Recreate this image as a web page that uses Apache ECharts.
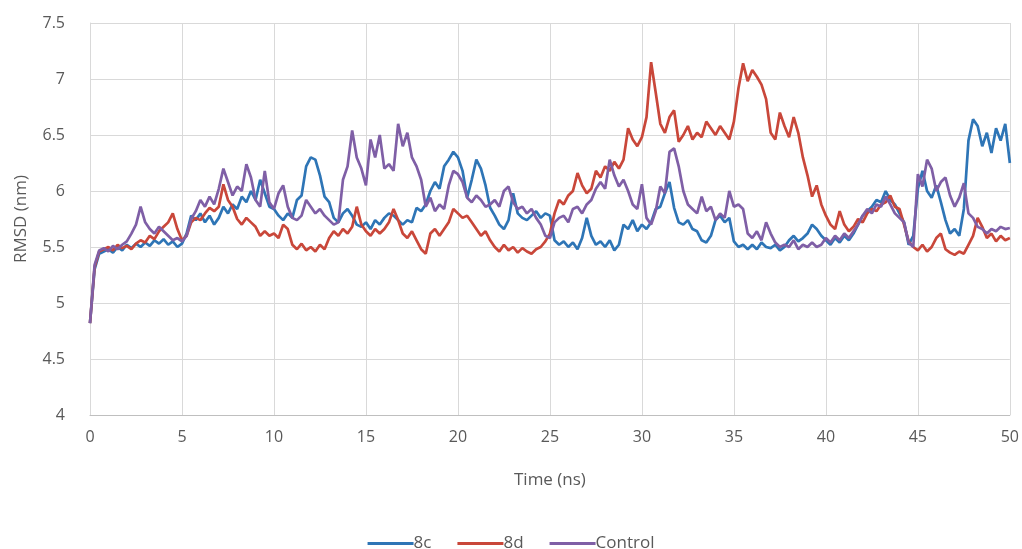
<!DOCTYPE html>
<html>
<head>
<meta charset="utf-8">
<script src="https://cdn.jsdelivr.net/npm/echarts@6/dist/echarts.min.js"></script>
<style>html,body{margin:0;padding:0;background:#fff}#c{width:1022px;height:549px}</style>
</head>
<body>
<div id="c"></div>
<script>
const timeStep = 0.25; // ns between samples, samples from 0 to 50 ns
const seriesNames = ['8c', '8d', 'Control'];
const xTicks = [0, 5, 10, 15, 20, 25, 30, 35, 40, 45, 50];
const yTicks = [4, 4.5, 5, 5.5, 6, 6.5, 7, 7.5];

const rmsd8c = [
4.82,5.30,5.44,5.46, 5.48,5.45,5.50,5.47, 5.52,5.49,5.53,5.50, 5.54,5.51,5.56,5.53, 5.57,5.52,5.55,5.50,
5.53,5.62,5.78,5.74, 5.80,5.72,5.78,5.70, 5.76,5.86,5.80,5.88, 5.84,5.95,5.90,6.00, 5.92,6.10,5.98,5.86,
5.84,5.78,5.74,5.80, 5.76,5.92,5.96,6.22, 6.30,6.28,6.14,5.95, 5.90,5.76,5.72,5.80, 5.84,5.78,5.70,5.68,
5.72,5.66,5.74,5.70, 5.76,5.80,5.78,5.74, 5.70,5.74,5.72,5.85, 5.82,5.88,6.00,6.08, 6.02,6.22,6.28,6.35,
6.30,6.18,5.94,6.10, 6.28,6.20,6.05,5.85, 5.78,5.70,5.66,5.74, 5.98,5.80,5.76,5.74, 5.78,5.82,5.76,5.80,
5.78,5.56,5.52,5.55, 5.50,5.54,5.48,5.58, 5.76,5.60,5.52,5.55, 5.50,5.56,5.47,5.52, 5.70,5.66,5.74,5.64,
5.70,5.66,5.72,5.84, 5.86,5.98,6.08,5.85, 5.72,5.70,5.74,5.66, 5.64,5.56,5.54,5.60, 5.74,5.78,5.72,5.76,
5.55,5.50,5.52,5.48, 5.52,5.48,5.54,5.50, 5.49,5.52,5.47,5.50, 5.56,5.60,5.55,5.58, 5.62,5.70,5.66,5.60,
5.56,5.52,5.58,5.54, 5.60,5.56,5.62,5.70, 5.78,5.82,5.86,5.92, 5.90,6.00,5.92,5.88, 5.80,5.72,5.52,5.60,
6.02,6.18,6.00,5.94, 6.05,5.90,5.74,5.62, 5.66,5.60,5.84,6.45, 6.64,6.58,6.40,6.52, 6.34,6.56,6.45,6.60,
6.25];

const rmsd8d = [
4.82,5.32,5.46,5.48, 5.50,5.47,5.52,5.49, 5.51,5.48,5.53,5.56, 5.54,5.60,5.57,5.64, 5.68,5.72,5.80,5.66,
5.56,5.60,5.72,5.76, 5.74,5.80,5.85,5.82, 5.86,6.06,5.92,5.86, 5.75,5.70,5.76,5.72, 5.68,5.60,5.64,5.60,
5.62,5.58,5.70,5.66, 5.52,5.48,5.53,5.47, 5.50,5.46,5.52,5.48, 5.58,5.64,5.60,5.66, 5.62,5.68,5.86,5.70,
5.64,5.60,5.66,5.62, 5.66,5.72,5.84,5.74, 5.62,5.58,5.64,5.56, 5.48,5.44,5.62,5.66, 5.60,5.66,5.72,5.84,
5.80,5.76,5.78,5.72, 5.66,5.60,5.64,5.56, 5.50,5.46,5.52,5.47, 5.50,5.45,5.49,5.46, 5.44,5.48,5.50,5.55,
5.62,5.80,5.92,5.88, 5.96,6.00,6.16,6.05, 5.98,6.02,6.18,6.12, 6.22,6.18,6.26,6.20, 6.28,6.56,6.46,6.40,
6.48,6.66,7.15,6.88, 6.60,6.52,6.66,6.72, 6.44,6.50,6.58,6.46, 6.52,6.48,6.62,6.56, 6.50,6.58,6.52,6.46,
6.62,6.92,7.14,6.98, 7.08,7.02,6.95,6.82, 6.52,6.46,6.70,6.58, 6.48,6.66,6.52,6.30, 6.14,5.95,6.05,5.88,
5.78,5.70,5.66,5.82, 5.70,5.64,5.68,5.75, 5.72,5.80,5.84,5.82, 5.88,5.90,5.96,5.86, 5.84,5.70,5.55,5.50,
5.47,5.52,5.46,5.50, 5.58,5.62,5.48,5.45, 5.43,5.46,5.44,5.52, 5.60,5.76,5.68,5.58, 5.62,5.55,5.60,5.56,
5.58];

const rmsdControl = [
4.82,5.34,5.47,5.49, 5.46,5.51,5.48,5.52, 5.55,5.62,5.70,5.86, 5.72,5.66,5.62,5.68, 5.64,5.60,5.56,5.58,
5.55,5.60,5.75,5.82, 5.92,5.86,5.95,5.88, 6.02,6.20,6.08,5.96, 6.04,6.00,6.24,6.12, 5.92,5.86,6.18,5.90,
5.84,5.98,6.05,5.86, 5.76,5.74,5.78,5.92, 5.86,5.80,5.84,5.78, 5.74,5.70,5.72,6.10, 6.22,6.54,6.30,6.20,
6.05,6.46,6.30,6.50, 6.20,6.24,6.18,6.60, 6.40,6.52,6.30,6.22, 6.10,5.86,5.94,5.82, 5.88,5.84,6.05,6.18,
6.15,6.08,5.94,5.90, 5.96,5.92,5.86,5.88, 5.92,5.86,6.00,6.04, 5.90,5.84,5.86,5.80, 5.84,5.76,5.70,5.60,
5.58,5.72,5.76,5.78, 5.72,5.84,5.86,5.80, 5.88,5.92,6.02,6.08, 6.02,6.28,6.14,6.04, 6.10,6.00,5.88,5.84,
6.06,5.76,5.70,5.82, 6.04,5.98,6.35,6.38, 6.22,6.00,5.88,5.84, 5.80,5.95,5.82,5.86, 5.74,5.80,5.76,6.00,
5.86,5.88,5.84,5.62, 5.58,5.64,5.56,5.72, 5.62,5.54,5.50,5.52, 5.50,5.56,5.48,5.52, 5.50,5.54,5.50,5.52,
5.58,5.54,5.60,5.56, 5.62,5.58,5.64,5.70, 5.78,5.84,5.80,5.88, 5.86,5.95,5.88,5.80, 5.76,5.72,5.54,5.50,
6.15,6.04,6.28,6.20, 6.00,6.08,6.12,5.96, 5.86,5.94,6.07,5.80, 5.76,5.68,5.66,5.62, 5.66,5.64,5.68,5.66,
5.67];

const colors = ['#2e75b6', '#c9473a', '#7f5fa6'];
const allValues = [rmsd8c, rmsd8d, rmsdControl];

function pairs(vals) { return vals.map((v, i) => [i * timeStep, v]); }

const chart = echarts.init(document.getElementById('c'), null, {renderer: 'canvas'});
const font = '"Open Sans", "Noto Sans", sans-serif';
chart.setOption({
  animation: false,
  backgroundColor: '#ffffff',
  textStyle: {fontFamily: font},
  grid: {left: 90, right: 11, top: 23, bottom: 134, containLabel: false},
  xAxis: {
    type: 'value', min: xTicks[0], max: xTicks[xTicks.length - 1], interval: 5,
    name: 'Time (ns)', nameLocation: 'middle', nameGap: 57,
    nameTextStyle: {fontSize: 17, color: '#595959', fontFamily: font},
    axisLine: {show: true, lineStyle: {color: '#bfbfbf', width: 1}},
    axisTick: {show: false},
    axisLabel: {fontSize: 16, color: '#595959', margin: 14, fontFamily: font},
    splitLine: {show: true, lineStyle: {color: '#d9d9d9', width: 1}}
  },
  yAxis: {
    type: 'value', min: yTicks[0], max: yTicks[yTicks.length - 1], interval: 0.5,
    name: 'RMSD (nm)', nameLocation: 'middle', nameGap: 60, nameRotate: 90,
    nameTextStyle: {fontSize: 17, color: '#595959', fontFamily: font},
    axisLine: {show: true, lineStyle: {color: '#d9d9d9', width: 1}},
    axisTick: {show: false},
    axisLabel: {fontSize: 16, color: '#595959', margin: 25, fontFamily: font,
      formatter: v => String(v)},
    splitLine: {show: true, lineStyle: {color: '#d9d9d9', width: 1}}
  },
  legend: {
    top: 530, left: 'center',
    itemWidth: 46, itemHeight: 3, itemGap: 26,
    icon: 'rect',
    textStyle: {fontSize: 17, color: '#595959', fontFamily: font, padding: [0, 0, 0, -5]},
    data: seriesNames
  },
  series: seriesNames.map((n, k) => ({
    name: n, type: 'line', data: pairs(allValues[k]),
    showSymbol: false, symbol: 'none',
    lineStyle: {color: colors[k], width: 2.7},
    itemStyle: {color: colors[k]},
    z: 2 + k
  }))
});
</script>
</body>
</html>
